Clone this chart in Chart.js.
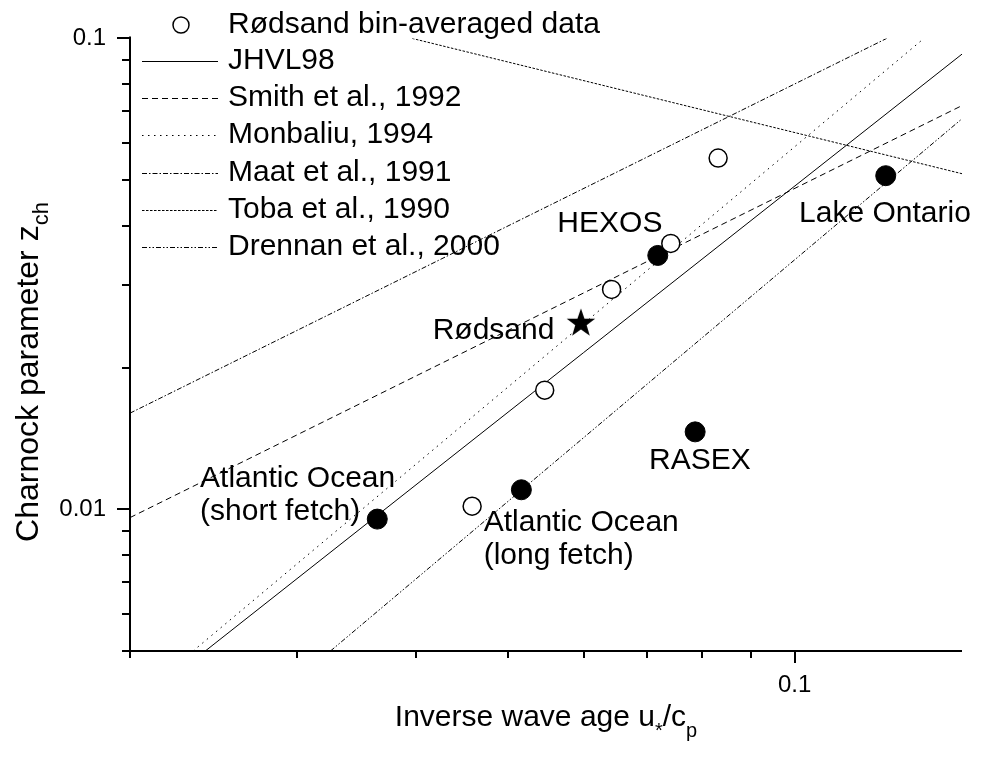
<!DOCTYPE html>
<html>
<head>
<meta charset="utf-8">
<script src="https://cdn.jsdelivr.net/npm/chart.js@4.4.1/dist/chart.umd.min.js"></script>
<style>
  html, body { margin: 0; padding: 0; background: #fff; }
</style>
</head>
<body>
<canvas id="chart" width="981" height="761"></canvas>
<script>
// Rødsand bin-averaged data (u*/cp, Charnock parameter)
const binX = [0.0458, 0.0546, 0.0642, 0.0741, 0.0831];
const binY = [0.01015, 0.0179, 0.0293, 0.0367, 0.0557];

// other field sites
const siteX = [0.0364, 0.0516, 0.0718, 0.0786, 0.1247];
const siteY = [0.00953, 0.0110, 0.0346, 0.0146, 0.0511];

// Rødsand overall
const starX = [0.0596];
const starY = [0.0250];

// parameterisations: straight lines in log-log, given by their end points
const curveNames = ['JHVL98', 'Smith et al., 1992', 'Monbaliu, 1994', 'Maat et al., 1991', 'Toba et al., 1990', 'Drennan et al., 2000'];
const curveX = [[0.0240, 0.15], [0.02, 0.15], [0.0233, 0.1368], [0.02, 0.125], [0.0396, 0.15], [0.0325, 0.15]];
const curveY = [[0.005, 0.0926], [0.0096, 0.072], [0.005, 0.1], [0.016, 0.1], [0.1, 0.0516], [0.005, 0.0675]];
const curveDash = [[], [6, 4], [1.5, 4.5], [5, 2, 1.5, 2], [2.5, 1.5], [5, 2, 1.5, 2, 1.5, 2]];

// axis ticks
const xTicks = [0.02, 0.03, 0.04, 0.05, 0.06, 0.07, 0.08, 0.09, 0.1];
const xTickLabels = ['', '', '', '', '', '', '', '', '0.1'];
const yTicks = [0.005, 0.006, 0.007, 0.008, 0.009, 0.01, 0.02, 0.03, 0.04, 0.05, 0.06, 0.07, 0.08, 0.09, 0.1];
const yTickLabels = ['', '', '', '', '', '0.01', '', '', '', '', '', '', '', '', '0.1'];

// site labels, anchored in data coordinates
const notes = [
  { text: 'HEXOS', x: 0.0563, y: 0.0404, align: 'left' },
  { text: 'Lake Ontario', x: 0.1011, y: 0.04245, align: 'left' },
  { text: 'RASEX', x: 0.0703, y: 0.0127, align: 'left' },
  { text: 'Rødsand', x: 0.0559, y: 0.0239, align: 'right' },
  { text: 'Atlantic Ocean', x: 0.0237, y: 0.01163, align: 'left' },
  { text: '(short fetch)', x: 0.0237, y: 0.00986, align: 'left' },
  { text: 'Atlantic Ocean', x: 0.0471, y: 0.00934, align: 'left' },
  { text: '(long fetch)', x: 0.0471, y: 0.00795, align: 'left' }
];

const FONT = 'Arial, "Liberation Sans", sans-serif';

// filled five-pointed star used as a point style
function makeStar(r) {
  const c = document.createElement('canvas');
  const s = Math.ceil(r * 2 + 4);
  c.width = s; c.height = s;
  const g = c.getContext('2d');
  g.beginPath();
  for (let i = 0; i < 10; i++) {
    const rr = i % 2 === 0 ? r : r * 0.4;
    const a = -Math.PI / 2 + i * Math.PI / 5;
    g.lineTo(s / 2 + rr * Math.cos(a), s / 2 + 1.5 + rr * Math.sin(a));
  }
  g.closePath();
  g.fillStyle = '#000';
  g.fill();
  return c;
}

const toPts = (xs, ys) => xs.map((x, i) => ({ x: x, y: ys[i] }));

const datasets = [];
curveNames.forEach((name, i) => {
  datasets.push({
    label: name,
    data: toPts(curveX[i], curveY[i]),
    showLine: true,
    borderColor: '#000',
    borderWidth: 1,
    borderDash: curveDash[i],
    pointRadius: 0,
    order: 3
  });
});
datasets.push({
  label: 'Rødsand bin-averaged data',
  data: toPts(binX, binY),
  pointRadius: 9,
  pointBackgroundColor: '#fff',
  pointBorderColor: '#000',
  pointBorderWidth: 1.5,
  order: 1
});
datasets.push({
  label: 'sites',
  data: toPts(siteX, siteY),
  pointRadius: 10,
  pointBackgroundColor: '#000',
  pointBorderColor: '#000',
  pointBorderWidth: 1,
  order: 2
});
datasets.push({
  label: 'Rødsand',
  data: toPts(starX, starY),
  pointStyle: makeStar(15),
  pointRadius: 15,
  order: 0
});

// rich text with subscripts: parts = [[text, isSub], ...], drop = subscript shift
function drawRich(ctx, parts, x, y, size, drop) {
  const fontFor = sub => (sub ? Math.round(size * 0.68) : size) + 'px ' + FONT;
  let w = 0;
  parts.forEach(p => { ctx.font = fontFor(p[1]); w += ctx.measureText(p[0]).width; });
  let cx = x - w / 2;
  ctx.textAlign = 'left';
  ctx.textBaseline = 'alphabetic';
  parts.forEach(p => {
    ctx.font = fontFor(p[1]);
    ctx.fillText(p[0], cx, p[1] ? y + drop : y);
    cx += ctx.measureText(p[0]).width;
  });
}

const decor = {
  id: 'decor',
  afterDraw(chart) {
    const ctx = chart.ctx;
    const a = chart.chartArea;
    const xs = chart.scales.x, ys = chart.scales.y;
    ctx.save();
    ctx.strokeStyle = '#000';
    ctx.fillStyle = '#000';
    ctx.lineWidth = 2;
    ctx.setLineDash([]);

    // axis lines
    ctx.beginPath();
    ctx.moveTo(a.left, a.top - 2);
    ctx.lineTo(a.left, a.bottom);
    ctx.lineTo(a.right, a.bottom);
    ctx.stroke();

    // tick marks, longer where labelled
    ctx.beginPath();
    xTicks.forEach((v, i) => {
      const px = Math.round(xs.getPixelForValue(v));
      ctx.moveTo(px, a.bottom);
      ctx.lineTo(px, a.bottom + (xTickLabels[i] ? 12 : 7));
    });
    yTicks.forEach((v, i) => {
      const py = Math.round(ys.getPixelForValue(v));
      ctx.moveTo(a.left, py);
      ctx.lineTo(a.left - (yTickLabels[i] ? 13 : 8), py);
    });
    ctx.stroke();

    // site labels
    ctx.font = '30px ' + FONT;
    ctx.textBaseline = 'middle';
    notes.forEach(n => {
      ctx.textAlign = n.align;
      ctx.fillText(n.text, xs.getPixelForValue(n.x), ys.getPixelForValue(n.y));
    });

    // legend
    const rows = [25, 61, 98, 135, 173, 210, 247];
    ctx.textAlign = 'left';
    ctx.fillText('Rødsand bin-averaged data', 228, rows[0]);
    ctx.lineWidth = 1.5;
    ctx.beginPath();
    ctx.arc(181, rows[0], 8, 0, Math.PI * 2);
    ctx.stroke();
    ctx.lineWidth = 1;
    curveNames.forEach((name, i) => {
      const y = rows[i + 1] + 0.5;
      ctx.setLineDash(curveDash[i]);
      ctx.beginPath();
      ctx.moveTo(142, y);
      ctx.lineTo(218, y);
      ctx.stroke();
      ctx.setLineDash([]);
      ctx.fillText(name, 228, rows[i + 1]);
    });

    // axis titles
    drawRich(ctx, [['Inverse wave age u', false], ['*', true], ['/c', false], ['p', true]],
      (a.left + a.right) / 2, 726, 30, 11);
    ctx.translate(38, 372);
    ctx.rotate(-Math.PI / 2);
    drawRich(ctx, [['Charnock parameter z', false], ['ch', true]], 0, 0, 32, 10);
    ctx.restore();
  }
};

new Chart(document.getElementById('chart'), {
  type: 'scatter',
  data: { datasets: datasets },
  options: {
    responsive: false,
    animation: false,
    devicePixelRatio: 1,
    layout: { padding: { top: 36, right: 19, left: 0, bottom: 0 } },
    plugins: { legend: { display: false }, tooltip: { enabled: false } },
    scales: {
      x: {
        type: 'logarithmic',
        min: 0.02,
        max: 0.15,
        afterBuildTicks: s => { s.ticks = xTicks.map(v => ({ value: v })); },
        afterFit: s => { s.height = 110; },
        grid: { display: false, drawTicks: false },
        border: { display: false },
        ticks: {
          autoSkip: false, maxRotation: 0, padding: 20, color: '#000',
          font: { size: 24, family: FONT },
          callback: (v, i) => xTickLabels[i]
        }
      },
      y: {
        type: 'logarithmic',
        min: 0.005,
        max: 0.1,
        afterBuildTicks: s => { s.ticks = yTicks.map(v => ({ value: v })); },
        afterFit: s => { s.width = 130; },
        grid: { display: false, drawTicks: false },
        border: { display: false },
        ticks: {
          autoSkip: false, padding: 24, color: '#000',
          font: { size: 24, family: FONT },
          callback: (v, i) => yTickLabels[i]
        }
      }
    }
  },
  plugins: [decor]
});
</script>
</body>
</html>
